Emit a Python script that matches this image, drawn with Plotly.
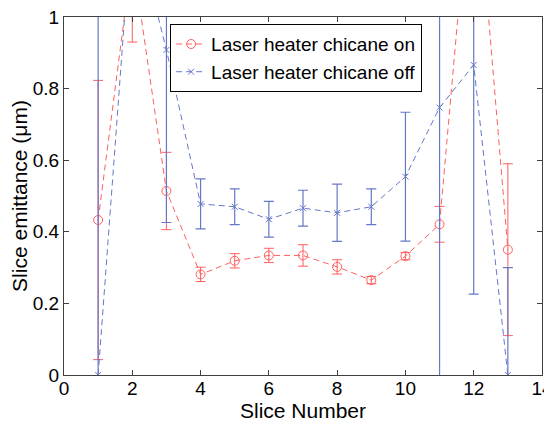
import plotly.graph_objects as go

slices = [1, 2, 3, 4, 5, 6, 7, 8, 9, 10, 11, 12, 13]
on_vals = [0.433, 1.17, 0.514, 0.281, 0.319, 0.334, 0.334, 0.302, 0.265, 0.332, 0.421, 1.50, 0.350]
on_errs = [0.390, 0.24, 0.108, 0.020, 0.020, 0.020, 0.030, 0.020, 0.010, 0.010, 0.050, 0.30, 0.240]
off_vals = [0.0, 1.29, 0.908, 0.478, 0.470, 0.435, 0.466, 0.453, 0.470, 0.554, 0.747, 0.866, 0.0]
off_errs = [1.10, 0.20, 0.482, 0.070, 0.050, 0.050, 0.050, 0.080, 0.050, 0.180, 0.800, 0.640, 0.300]
xticks = [0, 2, 4, 6, 8, 10, 12, 14]
yticks = [0, 0.2, 0.4, 0.6, 0.8, 1]

RED = "rgb(255,95,95)"
BLUE = "rgb(100,120,200)"
FONT = "Liberation Sans, Arial, sans-serif"

fig = go.Figure()
fig.add_trace(go.Scatter(
    x=slices, y=on_vals, mode="lines+markers",
    name="Laser heater chicane on",
    line=dict(color=RED, width=1, dash="6px,4px"),
    marker=dict(symbol="circle-open", size=9, color=RED, line=dict(width=1, color=RED)),
    error_y=dict(type="data", array=on_errs, visible=True, color=RED, thickness=1, width=5),
))
fig.add_trace(go.Scatter(
    x=slices, y=off_vals, mode="lines+markers",
    name="Laser heater chicane off",
    line=dict(color=BLUE, width=1, dash="6px,4px"),
    marker=dict(symbol="x-thin-open", size=6, color=BLUE, line=dict(width=1, color=BLUE)),
    error_y=dict(type="data", array=off_errs, visible=True, color=BLUE, thickness=1.2, width=5),
))

axis_common = dict(
    showgrid=False, zeroline=False, showline=True, linecolor="#404040", linewidth=1,
    mirror="ticks", ticks="inside", ticklen=5, tickcolor="#404040", automargin=False,
    ticklabeloverflow="allow",
    tickfont=dict(family=FONT, size=19, color="black"),
)
fig.update_xaxes(range=[0, 14], tickvals=xticks, ticktext=[str(t) for t in xticks],
                 ticklabelstandoff=-4,
                 title=dict(text="Slice Number", font=dict(family=FONT, size=21, color="black")),
                 **axis_common)
fig.update_yaxes(range=[0, 1], tickvals=yticks, ticktext=["0", "0.2", "0.4", "0.6", "0.8", "1"],
                 title=dict(text="Slice emittance (μm)", font=dict(family=FONT, size=21, color="black")),
                 **axis_common)

fig.update_layout(
    width=544, height=414,
    margin=dict(l=56, r=10, t=9, b=47),
    paper_bgcolor="white", plot_bgcolor="white",
    showlegend=True,
    legend=dict(x=0.222, y=0.98, xanchor="left", yanchor="top",
                bgcolor="white", bordercolor="black", borderwidth=1,
                font=dict(family=FONT, size=19, color="black"),
                itemwidth=30, tracegroupgap=0),
)
fig.write_html("out.html")
